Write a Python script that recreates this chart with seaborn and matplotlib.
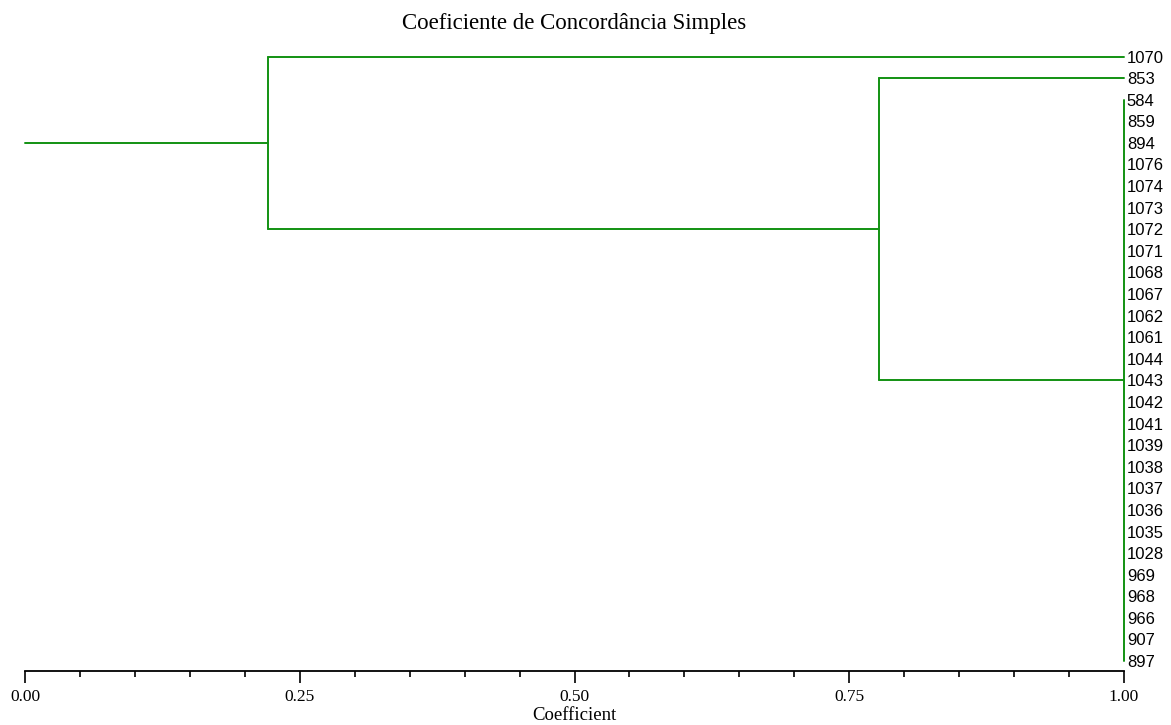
import numpy as np
import pandas as pd
import matplotlib
matplotlib.use('Agg')
import matplotlib.pyplot as plt
import seaborn as sns
from matplotlib.ticker import MultipleLocator

# folhas do dendrograma (ordem de cima para baixo)
grupo_central = ['584', '859', '894', '1076', '1074', '1073', '1072', '1071', '1068',
                 '1067', '1062', '1061', '1044', '1043', '1042', '1041', '1039', '1038',
                 '1037', '1036', '1035', '1028', '969', '968', '966', '907', '897']
coef_central = 1.00

# acessos que se juntam ao grupo, na ordem de agrupamento
juncoes = ['853', '1070']
coef_juncoes = [0.777, 0.221]

folhas = juncoes[::-1] + grupo_central
pos = {f: i for i, f in enumerate(folhas)}

# monta os segmentos do dendrograma
segs = []
def seg(x0, y0, x1, y1):
    k = len(segs) // 2
    segs.append((x0, y0, k))
    segs.append((x1, y1, k))

y0, y1 = pos[grupo_central[0]], pos[grupo_central[-1]]
seg(coef_central, y0, coef_central, y1)
cy, cx = (y0 + y1) / 2, coef_central
for f, c in zip(juncoes, coef_juncoes):
    yf = pos[f]
    seg(c, cy, cx, cy)
    seg(c, yf, coef_central, yf)
    seg(c, yf, c, cy)
    cy, cx = (yf + cy) / 2, c
seg(0.0, cy, cx, cy)

df = pd.DataFrame(segs, columns=['x', 'y', 'seg'])

sns.set_style('white')
plt.rcParams['font.family'] = ['Liberation Serif', 'DejaVu Serif']
plt.rcParams['text.color'] = 'black'
plt.rcParams['xtick.color'] = 'black'
plt.rcParams['ytick.color'] = 'black'
plt.rcParams['axes.labelcolor'] = 'black'

fig = plt.figure(figsize=(11.71, 7.25), dpi=100)
ax = fig.add_axes([25 / 1171, 54 / 725, 1099 / 1171, 626 / 725])

sns.lineplot(data=df, x='x', y='y', units='seg', estimator=None, sort=False,
             color='#129212', lw=1.4, clip_on=False, ax=ax)

ax.set_xlim(0, 1)
ax.set_ylim(28.46, -0.533)
ax.set_yticks(range(len(folhas)))
ax.set_yticklabels(folhas, fontfamily='Liberation Sans', fontsize=12)
ax.yaxis.tick_right()
ax.tick_params(axis='y', length=0, pad=2)

ax.xaxis.set_major_locator(MultipleLocator(0.25))
ax.xaxis.set_minor_locator(MultipleLocator(0.05))
ax.xaxis.set_major_formatter(lambda v, p: f'{v:.2f}')
ax.tick_params(axis='x', which='major', direction='out', length=8.5, width=1.2,
               color='black', labelsize=12.5, pad=4.5, bottom=True)
ax.tick_params(axis='x', which='minor', direction='out', length=4.3, width=1.2,
               color='black', bottom=True)

for s in ['top', 'right', 'left']:
    ax.spines[s].set_visible(False)
ax.spines['bottom'].set_color('black')
ax.spines['bottom'].set_linewidth(1.3)
ax.grid(False)

ax.set_ylabel('')
ax.set_xlabel('Coefficient', fontsize=13.5, labelpad=1.5)
fig.text(574.5 / 1171, 1 - 24 / 725, 'Coeficiente de Concordância Simples',
         ha='center', va='center', fontsize=16.5)

fig.savefig('out.png', dpi=100)
